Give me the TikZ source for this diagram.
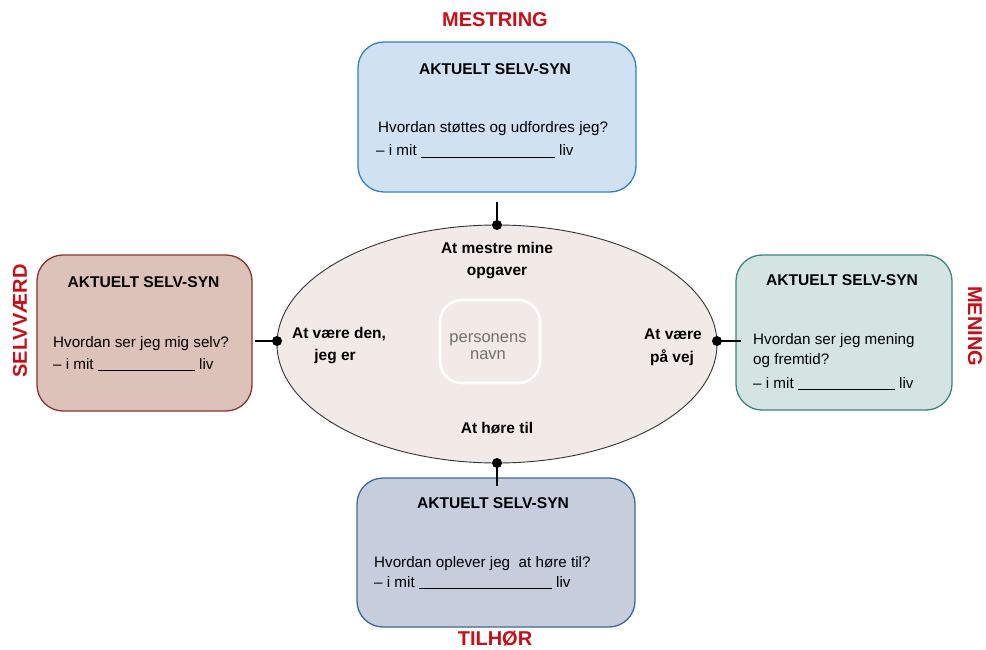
\documentclass[tikz,border=0pt]{standalone}
\usepackage{fontspec}
\setmainfont{Liberation Sans}
\usetikzlibrary{shapes.geometric}

\definecolor{themered}{RGB}{200,14,22}
\definecolor{blueFill}{RGB}{208,226,242}
\definecolor{blueLine}{RGB}{52,128,196}
\definecolor{roseFill}{RGB}{220,194,184}
\definecolor{roseLine}{RGB}{140,52,52}
\definecolor{tealFill}{RGB}{212,228,227}
\definecolor{tealLine}{RGB}{60,132,128}
\definecolor{slateFill}{RGB}{198,206,222}
\definecolor{slateLine}{RGB}{60,104,150}
\definecolor{coreFill}{RGB}{242,234,230}
\definecolor{nameGray}{RGB}{112,112,112}

\begin{document}
\begin{tikzpicture}[x=1pt,y=-1pt,
  card/.style={draw, line width=1.3pt, rounded corners=26pt, inner sep=0, outer sep=0},
  cardtitle/.style={anchor=base, inner sep=0, font=\fontsize{15.6}{18}\selectfont\bfseries},
  cardtext/.style={anchor=base west, inner sep=0, font=\fontsize{15.2}{18}\selectfont},
  facet/.style={anchor=base, inner sep=0, font=\fontsize{15.5}{18}\selectfont\bfseries},
  theme/.style={inner sep=0, text=themered, font=\fontsize{20}{24}\selectfont\bfseries},
  link/.style={line width=2.6pt},
  knob/.style={circle, fill=black, inner sep=0, minimum size=10pt}]
\useasboundingbox (0,0) rectangle (986,650);

% central ellipse
\node[ellipse, draw=black!80, fill=coreFill, line width=0.9pt, inner sep=0, outer sep=0,
      minimum width=440pt, minimum height=238pt] (core) at (497,344) {};
\node[draw=white, line width=2.6pt, rounded corners=22pt, minimum width=100pt,
      minimum height=83pt, inner sep=0] (namebox) at (490,341.5) {};
\node[anchor=base, inner sep=0, text=nameGray, font=\fontsize{16.5}{18}\selectfont] (nm1) at (488,342) {personens};
\node[anchor=base, inner sep=0, text=nameGray, font=\fontsize{16.5}{18}\selectfont] (nm2) at (488,359) {navn};

% facets inside the ellipse
\node[facet] (fT1) at (497,254) {At mestre mine};
\node[facet] (fT2) at (497,275) {opgaver};
\node[facet] (fL1) at (339,338) {At være den,};
\node[facet] (fL2) at (335,360) {jeg er};
\node[facet] (fR1) at (673,339) {At være};
\node[facet] (fR2) at (672,362) {på vej};
\node[facet] (fB1) at (497,433) {At høre til};

% four cards
\node[card, fill=blueFill, draw=blueLine, minimum width=278pt, minimum height=150pt] (top) at (497,117) {};
\node[card, fill=roseFill, draw=roseLine, minimum width=215pt, minimum height=156pt] (left) at (144.5,333) {};
\node[card, fill=tealFill, draw=tealLine, minimum width=216pt, minimum height=155pt] (right) at (844,332.5) {};
\node[card, fill=slateFill, draw=slateLine, minimum width=278pt, minimum height=149pt] (bottom) at (496,552.5) {};

% card texts
\node[cardtitle] (tT) at (495,75) {AKTUELT SELV-SYN};
\node[cardtext] (tT1) at (378,133) {Hvordan støttes og udfordres jeg?};
\node[cardtext] (tT2) at (376,156) {– i mit \rule[-1.6pt]{134pt}{0.8pt} liv};

\node[cardtitle] (tL) at (143.5,287) {AKTUELT SELV-SYN};
\node[cardtext] (tL1) at (53,347) {Hvordan ser jeg mig selv?};
\node[cardtext] (tL2) at (53,369) {– i mit \rule[-1.6pt]{97pt}{0.8pt} liv};

\node[cardtitle] (tR) at (842,285) {AKTUELT SELV-SYN};
\node[cardtext] (tR1) at (753,344) {Hvordan ser jeg mening};
\node[cardtext] (tR2) at (753,364) {og fremtid?};
\node[cardtext] (tR3) at (753,388) {– i mit \rule[-1.6pt]{97pt}{0.8pt} liv};

\node[cardtitle] (tB) at (493,508) {AKTUELT SELV-SYN};
\node[cardtext] (tB1) at (374,567) {Hvordan oplever jeg\ \ at høre til?};
\node[cardtext] (tB2) at (374,587) {– i mit \rule[-1.6pt]{133pt}{0.8pt} liv};

% theme labels
\node[theme] (mT) at (495,20) {MESTRING};
\node[theme, anchor=base] (mB) at (495,645) {TILHØR};
\node[theme, rotate=90] (mL) at (20,321) {SELVVÆRD};
\node[theme, rotate=-90] (mR) at (975,326) {MENING};

% connectors from cards to the ellipse
\node[knob] (kT) at (core.north) {};
\node[knob] (kL) at (core.west |- 0,341) {};
\node[knob] (kR) at (core.east |- 0,341) {};
\node[knob] (kB) at (core.south) {};
\coordinate (eT) at (core.north |- 0,202);
\coordinate (eL) at (255,341);
\coordinate (eR) at (741,341);
\coordinate (eB) at (core.south |- 0,486);
\draw[link] (eT) -- (kT.center);
\draw[link] (eL) -- (kL.center);
\draw[link] (eR) -- (kR.center);
\draw[link] (eB) -- (kB.center);
\end{tikzpicture}
\end{document}
